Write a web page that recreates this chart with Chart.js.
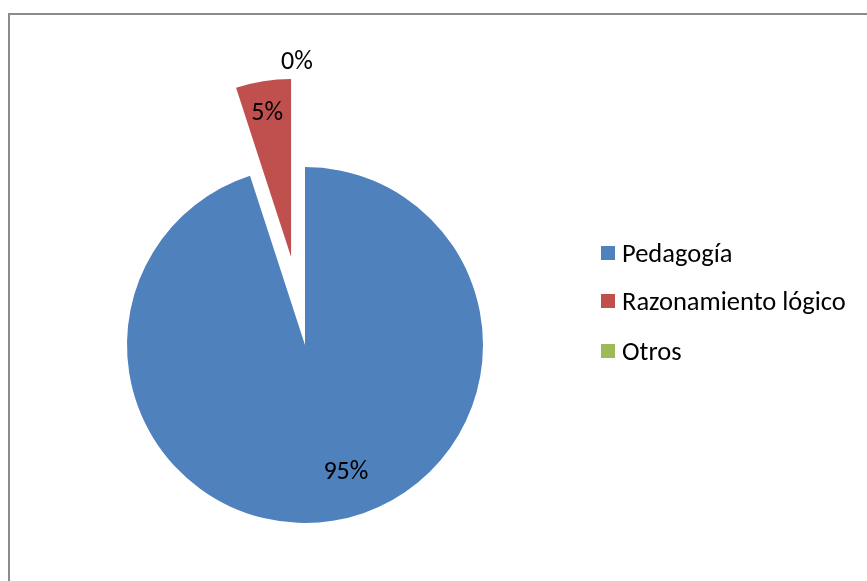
<!DOCTYPE html>
<html>
<head>
<meta charset="utf-8">
<script src="https://cdn.jsdelivr.net/npm/chart.js@4"></script>
<style>
  html, body { margin: 0; padding: 0; background: #fff; overflow: hidden; }
  #wrap { position: relative; width: 867px; height: 581px; overflow: hidden; }
  #frame { position: absolute; left: 8px; top: 13px; width: 900px; height: 620px;
           border-left: 2px solid #8c8c8c; border-top: 2px solid #8c8c8c; }
  #pie { position: absolute; left: 0; top: 0; }
  .leg { position: absolute; left: 601px; height: 30px; display: flex; align-items: center;
         font-family: Carlito, Lato, sans-serif; font-size: 26.5px; color: #000; white-space: nowrap; }
  .leg i { display: inline-block; width: 14px; height: 14px; margin-right: 7px; }
</style>
</head>
<body>
<div id="wrap">
  <div id="frame"></div>
  <canvas id="pie" width="867" height="581"></canvas>
  <div id="legend"></div>
</div>
<script>
// Chart data
const categories = ['Pedagogía', 'Razonamiento lógico', 'Otros'];
const values = [95, 5, 0];
const pctLabels = ['95%', '5%', '0%'];
const colors = ['#4F81BD', '#C0504D', '#9BBB59'];

// legend (html)
const legendRows = [253, 301, 351];
const legend = document.getElementById('legend');
categories.forEach((c, i) => {
  legend.innerHTML += `<div class="leg" style="top:${legendRows[i] - 15}px"><i style="background:${colors[i]}"></i>${c}</div>`;
});

// chart.js grows and narrows small offset slices; undo that so the
// exploded slice keeps the pie radius and its real angle
const explodeFix = {
  id: 'explodeFix',
  afterDatasetUpdate(chart, args) {
    args.meta.data.forEach(arc => {
      const off = (arc.options.offset || 0) / 4;
      if (!off || !arc.circumference) return;
      const grow = off * (1 - Math.sin(Math.min(Math.PI, arc.circumference)));
      const R = arc.outerRadius;
      arc.outerRadius = R - grow;
      const widen = grow / (2 * Math.PI * R);
      arc.startAngle -= widen;
      arc.endAngle += widen;
    });
  }
};

// percent labels drawn at the slice bisector
const labelDist = [0.75, 1.32, 1.6];
const labelNudge = [[20, -4], [-1, 1], [-8, 2]];
const pctPlugin = {
  id: 'pctLabels',
  afterDatasetsDraw(chart) {
    const ctx = chart.ctx;
    const meta = chart.getDatasetMeta(0);
    const r = meta.controller.outerRadius;
    ctx.save();
    ctx.font = '26px Carlito, Lato, sans-serif';
    ctx.fillStyle = '#000';
    ctx.textAlign = 'center';
    ctx.textBaseline = 'middle';
    meta.data.forEach((arc, i) => {
      const mid = (arc.startAngle + arc.endAngle) / 2;
      const d = labelDist[i] * r;
      ctx.fillText(pctLabels[i],
        arc.x + Math.cos(mid) * d + labelNudge[i][0],
        arc.y + Math.sin(mid) * d + labelNudge[i][1]);
    });
    ctx.restore();
  }
};

new Chart(document.getElementById('pie'), {
  type: 'pie',
  data: {
    labels: categories,
    datasets: [{
      data: values,
      backgroundColor: colors,
      borderWidth: 0,
      offset: [0, 356, 0],
      radius: 178,
      clip: false
    }]
  },
  options: {
    responsive: false,
    animation: false,
    layout: { padding: { top: 109, right: 257, left: 0, bottom: 0 } },
    plugins: {
      legend: { display: false },
      tooltip: { enabled: false }
    }
  },
  plugins: [explodeFix, pctPlugin]
});
</script>
</body>
</html>
